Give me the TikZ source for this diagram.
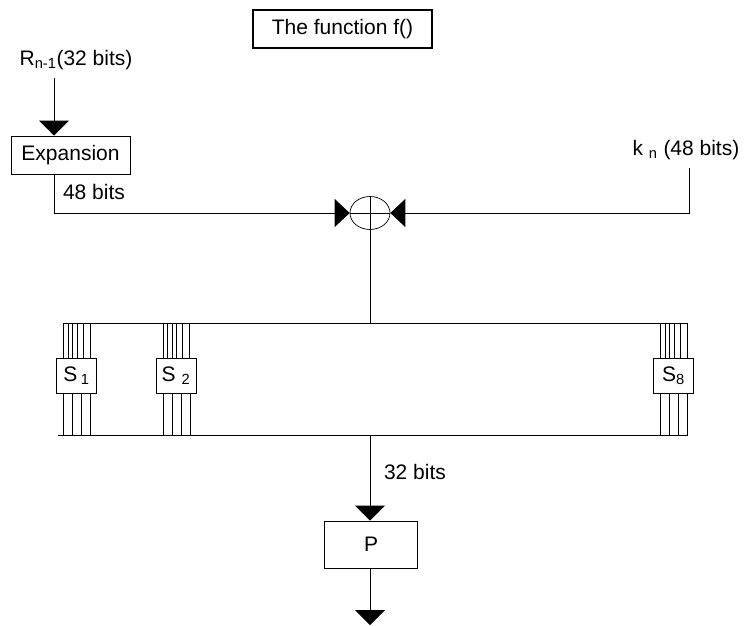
\documentclass[tikz,border=0pt]{standalone}
\usepackage{fontspec}
\setmainfont{Liberation Sans}
\usetikzlibrary{positioning,arrows.meta,shapes.geometric}

\begin{document}
\begin{tikzpicture}[x=1pt,y=-1pt,line width=0.9pt,
  font=\fontsize{21}{25}\selectfont,
  box/.style={draw,rectangle,inner sep=0pt},
  sbox/.style={box,fill=white,minimum width=40,minimum height=35},
  tip/.style={-{Triangle[width=30pt,length=15pt]}},
  xtip/.style={-{Triangle[width=28pt,length=15pt]}}]
\useasboundingbox (0,0) rectangle (747,626);
% title
\node[box,line width=1.5pt,minimum width=179,minimum height=38] (title) at (342.5,29) {The function f()};
% inputs
\node (rin) at (76,60) {R\textsubscript{n-1}(32 bits)};
\coordinate (rtop) at (54,78);
\node[box,minimum width=119,minimum height=38] (expand) at (70.5,155) {Expansion};
\draw[tip] (rtop) -- (rtop |- expand.north);
\node (kin) at (686,150) {k \textsubscript{n} (48 bits)};
\coordinate (ktop) at (689,168);
% xor
\node[draw,ellipse,line width=0.7pt,minimum width=40,minimum height=33,inner sep=0pt] (xor) at (370,213) {};
\draw[line width=0.7pt] (xor.north) -- (xor.south) (xor.west) -- (xor.east);
\draw[xtip] (rtop |- expand.south) -- (54,213) -- (xor.west);
\node at (94,192) {48 bits};
\draw[xtip] (ktop) -- (689,213) -- (xor.east);
% s-boxes
\coordinate (bustl) at (63,323);
\coordinate (bustr) at (688,323);
\coordinate (busbl) at (58,435);
\coordinate (busbr) at (688,435);
\draw (bustl) -- (bustr);
\draw (busbl) -- (busbr);
\draw (xor.south) -- (370,323);
\foreach \nm/\cx/\lab in {s1/76.5/{S\,\textsubscript{1}},s2/176/{S \textsubscript{2}},s8/673.5/{S\textsubscript{8}}}{
  \foreach \dx in {-13,-8.5,-4,0.5,6.5,13.5}
    \draw (\cx+\dx,323) -- (\cx+\dx,376);
  \foreach \dx in {-13,-4,5,14}
    \draw (\cx+\dx,376) -- (\cx+\dx,435);
  \node[sbox] (\nm) at (\cx,376) {\lab};
}
% permutation
\node[box,minimum width=93,minimum height=47] (pbox) at (371,544.5) {P};
\coordinate (out) at (370,625);
\draw[tip] (370,435) -- (370,0 |- pbox.north);
\node at (415,472) {32 bits};
\draw[tip] (370,0 |- pbox.south) -- (out);
\end{tikzpicture}
\end{document}
